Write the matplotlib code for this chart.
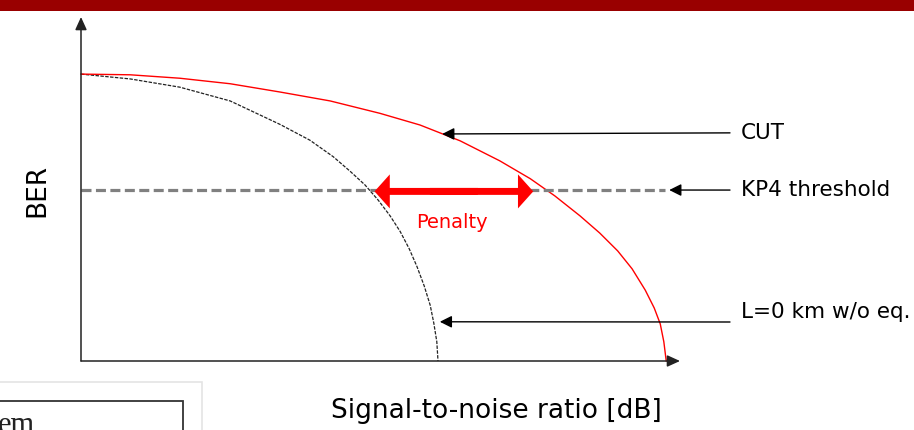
import matplotlib
matplotlib.use("Agg")
import matplotlib.pyplot as plt
from matplotlib.patches import Rectangle

plt.rcParams['font.family'] = ['DejaVu Sans']
plt.rcParams['lines.scale_dashes'] = False

# curves (arbitrary units: SNR 0..10, BER 0..5)
snr_cut = [0.0, 0.82, 1.65, 2.49, 3.32, 4.16, 4.99, 5.66, 6.33, 6.99, 7.50,
           7.91, 8.33, 8.66, 8.96, 9.20, 9.42, 9.57, 9.67, 9.73, 9.77]
ber_cut = [4.17, 4.16, 4.11, 4.03, 3.91, 3.78, 3.60, 3.43, 3.20, 2.91, 2.65,
           2.40, 2.11, 1.86, 1.60, 1.34, 1.03, 0.77, 0.54, 0.28, 0.0]

snr_ref = [0.0, 0.82, 1.65, 2.49, 3.32, 3.82, 4.21, 4.49, 4.74, 4.96, 5.16,
           5.33, 5.48, 5.61, 5.73, 5.83, 5.89, 5.94, 5.96]
ber_ref = [4.17, 4.10, 3.98, 3.78, 3.44, 3.21, 2.97, 2.76, 2.56, 2.34, 2.11,
           1.88, 1.63, 1.37, 1.09, 0.81, 0.55, 0.28, 0.0]

kp4 = 2.485
kp4_end = 9.75
penalty_from = 4.90
penalty_to = 7.55

labels = ['CUT', 'KP4 threshold', 'L=0 km w/o eq.']
label_targets = [(6.03, 3.30), (9.82, kp4), (5.99, 0.57)]
label_y = [0.691, 0.558, 0.274]

fig = plt.figure(figsize=(9.14, 4.3), dpi=100)
ax = fig.add_axes([81/914, 69/430, 599/914, 344/430])
ax.set_xlim(0, 10)
ax.set_ylim(0, 5)
ax.axis('off')

# axes with arrows
for end in [(0, 5), (10, 0)]:
    ax.annotate('', xy=end, xytext=(0, 0),
                arrowprops=dict(arrowstyle='-|>,head_length=0.55,head_width=0.25',
                                mutation_scale=14, lw=1.1, color='#222222',
                                shrinkA=0, shrinkB=0))

# curves
ax.plot(snr_ref, ber_ref, color='#222222', lw=0.9, ls=(0, (2.5, 1)), clip_on=False)
ax.plot(snr_cut, ber_cut, color='red', lw=1.0, clip_on=False)

# KP4 threshold
ax.plot([0, kp4_end], [kp4, kp4], color='#808080', lw=2.3, ls=(0, (7.2, 3.2)))

# penalty arrow (two filled halves, overlapping in the middle)
mid = (penalty_from + penalty_to) / 2
for end, start in [(penalty_from, mid + 0.4), (penalty_to, mid - 0.4)]:
    ax.annotate('', xy=(end, kp4 - 0.02), xytext=(start, kp4 - 0.02),
                arrowprops=dict(arrowstyle='simple,head_length=1.1,head_width=2.45,tail_width=0.5',
                                mutation_scale=10, lw=0, color='red',
                                shrinkA=0, shrinkB=0))
fig.text(0.4945, 0.4837, 'Penalty', color='red', fontsize=14, ha='center', va='center')

# label arrows
for lab, tgt, ty in zip(labels, label_targets, label_y):
    tail_y = ty if lab != 'L=0 km w/o eq.' else 1 - 322/430
    ax.annotate('', xy=tgt, xycoords='data', xytext=(730/914, tail_y),
                textcoords='figure fraction',
                arrowprops=dict(arrowstyle='-|>,head_length=0.6,head_width=0.3',
                                mutation_scale=12, lw=1.0, color='black',
                                shrinkA=0, shrinkB=0))
    fig.text(741/914, ty, lab, fontsize=15.5, ha='left', va='center')

fig.text(496/914, 1 - 411/430, 'Signal-to-noise ratio [dB]', fontsize=19,
         ha='center', va='center')
fig.text(37/914, 1 - 190/430, 'BER', fontsize=19, rotation=90,
         ha='center', va='center')

# top bar
fig.patches.append(Rectangle((0, 1 - 10.5/430), 1, 10.5/430, transform=fig.transFigure,
                             facecolor='#990000', edgecolor='none'))

# cropped box at bottom left
fig.patches.append(Rectangle((-0.01, -0.1), 0.01 + 202/914, 0.1 + 48/430,
                             transform=fig.transFigure, facecolor='white',
                             edgecolor='#e4e4e4', lw=1.2))
fig.patches.append(Rectangle((-0.01, -0.1), 0.01 + 183/914, 0.1 + 29/430,
                             transform=fig.transFigure, facecolor='white',
                             edgecolor='#333333', lw=1.3))
fig.text(-2/914, 1 - 411/430, 'em', fontsize=22, family='Liberation Serif',
         ha='left', va='top', color='#222222')

fig.savefig('out.png', dpi=100)
